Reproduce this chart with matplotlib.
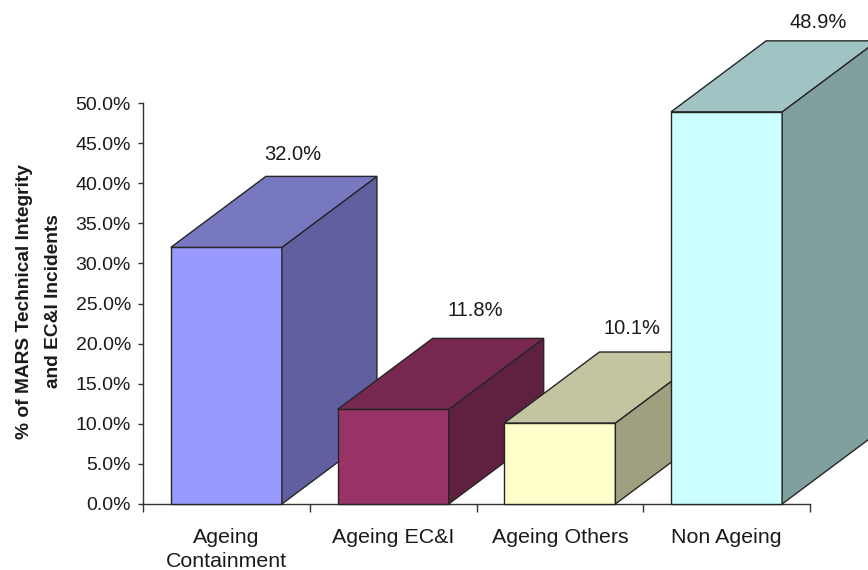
import matplotlib.pyplot as plt
from matplotlib.patches import Polygon

plt.rcParams['font.family'] = ['Liberation Sans', 'DejaVu Sans']

categorias = ['Ageing\nContainment', 'Ageing EC&I', 'Ageing Others', 'Non Ageing']
valores = [32.0, 11.8, 10.1, 48.9]
etiquetas = ['32.0%', '11.8%', '10.1%', '48.9%']
frente = ['#9999ff', '#993366', '#ffffcc', '#ccffff']
lado = ['#6060a0', '#602040', '#a0a080', '#80a0a0']
arriba = ['#7878c0', '#782850', '#c4c4a0', '#a0c4c4']

ancho = 0.666
prof_x = 0.57
prof_y = 8.85
borde = '#262626'
texto = '#1a1a1a'

# desplazamiento de cada etiqueta respecto al centro del frente y a la tapa (en puntos)
desp_x = [48, 59, 52, 66]
desp_y = [16, 20, 17, 13]

fig = plt.figure(figsize=(8.68, 5.70), dpi=100)
ax = fig.add_axes([143 / 868, 1 - 504 / 570, (810 - 143) / 868, (504 - 103) / 570])
ax.set_xlim(0, 4)
ax.set_ylim(0, 50)

# cada caja: frente, lado y tapa, en orden para que la de la derecha tape a la anterior
for i, v in enumerate(valores):
    x0 = i + 0.5 - ancho / 2
    x1 = i + 0.5 + ancho / 2
    ax.bar(i + 0.5, v, ancho, color=frente[i], edgecolor=borde, linewidth=1,
           clip_on=False, zorder=3 + i)
    ax.add_patch(Polygon([(x1, 0), (x1 + prof_x, prof_y), (x1 + prof_x, v + prof_y), (x1, v)],
                         facecolor=lado[i], edgecolor=borde, linewidth=1,
                         clip_on=False, zorder=3 + i))
    ax.add_patch(Polygon([(x0, v), (x0 + prof_x, v + prof_y), (x1 + prof_x, v + prof_y), (x1, v)],
                         facecolor=arriba[i], edgecolor=borde, linewidth=1,
                         clip_on=False, zorder=3 + i))
    ax.annotate(etiquetas[i], (i + 0.5, v + prof_y), xytext=(desp_x[i], desp_y[i]),
                textcoords='offset points', ha='center', va='center', fontsize=14.5,
                color=texto, annotation_clip=False, zorder=10)

for s in ['top', 'right']:
    ax.spines[s].set_visible(False)
for s in ['left', 'bottom']:
    ax.spines[s].set_linewidth(1)
    ax.spines[s].set_color('#333333')
    ax.spines[s].set_zorder(2)

ax.set_yticks(range(0, 51, 5))
ax.set_yticklabels([f'{t:.1f}%' for t in range(0, 51, 5)], fontsize=14, color=texto)
ax.set_xticks(range(0, 5))
ax.set_xticklabels([])
ax.set_xticks([i + 0.5 for i in range(4)], minor=True)
ax.set_xticklabels(categorias, minor=True, fontsize=15.4, linespacing=1.32, color=texto)
ax.tick_params(axis='x', which='minor', length=0, pad=17.5)
ax.tick_params(axis='x', which='major', length=5.5, width=1, color='#333333')
ax.tick_params(axis='y', length=3.6, width=1, pad=5, color='#333333')

ax.set_ylabel('% of MARS Technical Integrity\nand EC&I Incidents', fontsize=13.8,
              fontweight='bold', labelpad=9.5, linespacing=1.95, color=texto, y=0.505)

plt.savefig('out.png', dpi=100)
